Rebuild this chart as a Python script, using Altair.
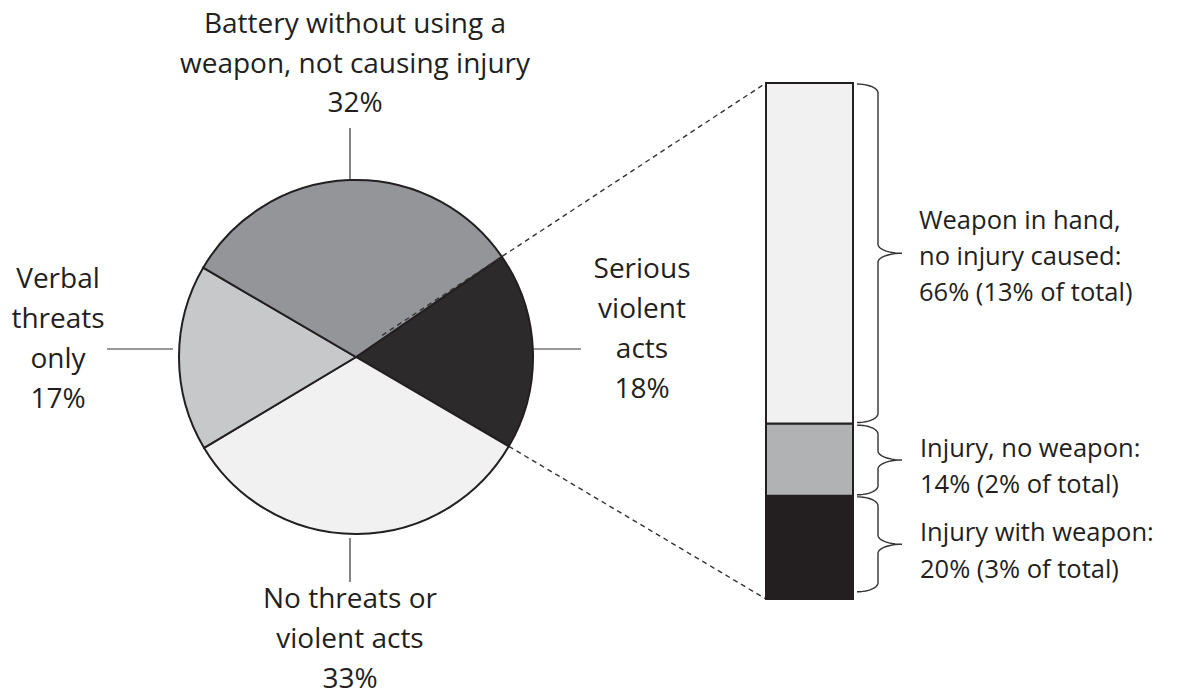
import math

import altair as alt
import numpy as np
import pandas as pd

# ---- data -------------------------------------------------------------
# Incidents by most serious behaviour (pie, clockwise from the exploded slice)
pie_names = ["Serious violent acts", "No threats or violent acts",
             "Verbal threats only",
             "Battery without using a weapon, not causing injury"]
pie_values = [18, 33, 17, 32]
pie_colors = ["#2d2a2b", "#f1f1f2", "#c7c8ca", "#939598"]
pie_label_lines = [["Serious", "violent", "acts"],
                   ["No threats or", "violent acts"],
                   ["Verbal", "threats", "only"],
                   ["Battery without using a", "weapon, not causing injury"]]

# Breakdown of the serious violent acts (stacked bar, bottom to top)
bar_names = ["Injury with weapon", "Injury, no weapon",
             "Weapon in hand, no injury caused"]
bar_values = [20, 14, 66]
bar_share_of_total = [3, 2, 13]
bar_colors = ["#231f20", "#b1b2b4", "#f1f1f2"]
bar_label_lines = [["Injury with weapon:"],
                   ["Injury, no weapon:"],
                   ["Weapon in hand,", "no injury caused:"]]

# ---- layout -----------------------------------------------------------
W, H = 1179, 696
CX, CY, R = 356, 357, 177
START = math.radians(55.5)           # where the first slice begins (clockwise from 12 o'clock)
BAR_X0, BAR_X1 = 766, 853
BAR_TOP, BAR_BOTTOM = 83, 599
BRACE_X0, BRACE_SPINE, BRACE_TIP = 857, 878, 902
INK = "#231f20"
FONT = "Open Sans"
FS_PIE = 28
FS_BAR = 25.5

pie_df = pd.DataFrame({"name": pie_names, "value": pie_values,
                       "idx": range(len(pie_names))})
bar_cum = np.cumsum([0] + bar_values)
bar_df = pd.DataFrame({"name": bar_names, "value": bar_values,
                       "y0": bar_cum[:-1], "y1": bar_cum[1:]})

yscale = alt.Scale(domain=[0, 100], range=[BAR_BOTTOM, BAR_TOP])

pie = alt.Chart(pie_df).mark_arc(outerRadius=R, stroke=INK, strokeWidth=2).encode(
    theta=alt.Theta("value:Q", stack=True,
                    scale=alt.Scale(range=[START, START + 2 * math.pi])),
    color=alt.Color("name:N", scale=alt.Scale(domain=pie_names, range=pie_colors),
                    legend=None),
    order=alt.Order("idx:Q", sort="ascending"),
    x=alt.value(CX), y=alt.value(CY),
)


def polar(angle, r):
    return CX + r * math.sin(angle), CY - r * math.cos(angle)


# dashed connectors from the "serious" slice to the breakdown bar
a_start = START
a_end = START + 2 * math.pi * pie_values[0] / sum(pie_values)
sx, sy = polar(a_start - 0.09, 34)
ex, ey = polar(a_end, R)
connectors = []
for (px, py, qy) in [(sx, sy, BAR_TOP), (ex, ey, BAR_BOTTOM)]:
    connectors.append(
        alt.Chart(pd.DataFrame({"k": [0]})).mark_rule(
            color="#333333", strokeWidth=1.4, strokeDash=[5, 4]).encode(
            x=alt.value(px), y=alt.value(py), x2=alt.value(BAR_X0), y2=alt.value(qy))
    )

# leader lines from the slice labels to the pie
leaders = []
for (x1, y1, x2, y2) in [(350, 128, 350, CY - R), (107, CY - 8, CX - R - 6, CY - 8),
                         (CX + R, CY - 8, 581, CY - 8), (350, CY + R + 4, 350, 582)]:
    leaders.append(
        alt.Chart(pd.DataFrame({"k": [0]})).mark_rule(color="#333333", strokeWidth=1.2).encode(
            x=alt.value(x1), y=alt.value(y1), x2=alt.value(x2), y2=alt.value(y2))
    )

bar = alt.Chart(bar_df).mark_rect(stroke=INK, strokeWidth=2).encode(
    x=alt.value(BAR_X0), x2=alt.value(BAR_X1),
    y=alt.Y("y0:Q", scale=yscale, axis=None),
    y2="y1:Q",
    color=alt.Color("name:N", scale=alt.Scale(domain=bar_names, range=bar_colors),
                    legend=None),
)

# curly braces beside each bar segment, built from the segment bounds
px_per_pct = (BAR_BOTTOM - BAR_TOP) / 100.0


def brace_points(top, bottom, bid):
    r = 9 / px_per_pct
    mid = (top + bottom) / 2
    t = np.linspace(0, math.pi / 2, 12)
    xs, ys = [], []
    # upper end: horizontal into the spine
    xs += list(BRACE_X0 + (BRACE_SPINE - BRACE_X0) * np.sin(t))
    ys += list(top - r * (1 - np.cos(t)))
    # spine down, then out to the tip
    xs += list(BRACE_SPINE + (BRACE_TIP - BRACE_SPINE) * (1 - np.cos(t)))
    ys += list(mid + r - r * np.sin(t))
    # back from the tip to the spine
    xs += list(BRACE_SPINE + (BRACE_TIP - BRACE_SPINE) * (1 - np.cos(t[::-1])))
    ys += list(mid - r + r * np.sin(t[::-1]))
    # lower end: spine into horizontal
    xs += list(BRACE_X0 + (BRACE_SPINE - BRACE_X0) * np.sin(t[::-1]))
    ys += list(bottom + r * (1 - np.cos(t[::-1])))
    return pd.DataFrame({"bx": xs, "by": ys, "i": range(len(xs)), "brace": bid})


gaps = [(1.4, 0.2), (0.2, 0.3), (0.2, 0.2)]
brace_df = pd.concat([
    brace_points(bar_cum[i + 1] - gaps[i][1], bar_cum[i] + gaps[i][0], bar_names[i])
    for i in range(len(bar_values))
])
braces = alt.Chart(brace_df).mark_line(color="#333333", strokeWidth=1.4).encode(
    x=alt.X("bx:Q", scale=None, axis=None),
    y=alt.Y("by:Q", scale=yscale, axis=None),
    detail="brace:N",
    order="i:Q",
)


def label(lines, x, y, size, align="center", line_height=40):
    return alt.Chart(pd.DataFrame({"t": ["\n".join(lines)]})).mark_text(
        font=FONT, fontSize=size, color=INK, align=align, baseline="alphabetic",
        lineBreak="\n", lineHeight=line_height).encode(
        text="t:N", x=alt.value(x), y=alt.value(y))


# (x, first baseline, line height) for each slice label
pie_anchor = [(642, 278, 40), (350, 608, 40), (58, 288, 40), (355, 33, 39.5)]
pie_texts = [label(pie_label_lines[i] + [f"{pie_values[i]}%"],
                   pie_anchor[i][0], pie_anchor[i][1], FS_PIE,
                   line_height=pie_anchor[i][2])
             for i in range(len(pie_values))]

bar_anchor = [(920, 541, 36.5), (920, 457, 36), (919, 229, 36)]
bar_texts = [label(bar_label_lines[i] + [f"{bar_values[i]}% ({bar_share_of_total[i]}% of total)"],
                   bar_anchor[i][0], bar_anchor[i][1], FS_BAR, align="left",
                   line_height=bar_anchor[i][2])
             for i in range(len(bar_values))]

chart = alt.layer(pie, *connectors, *leaders, bar, braces, *pie_texts, *bar_texts).resolve_scale(
    color="independent"
).properties(
    width=W, height=H, padding=0, autosize=alt.AutoSizeParams(type="none"),
    background="white",
).configure_view(stroke=None)

chart.save("out.html", embed_options={"renderer": "svg", "actions": False})
